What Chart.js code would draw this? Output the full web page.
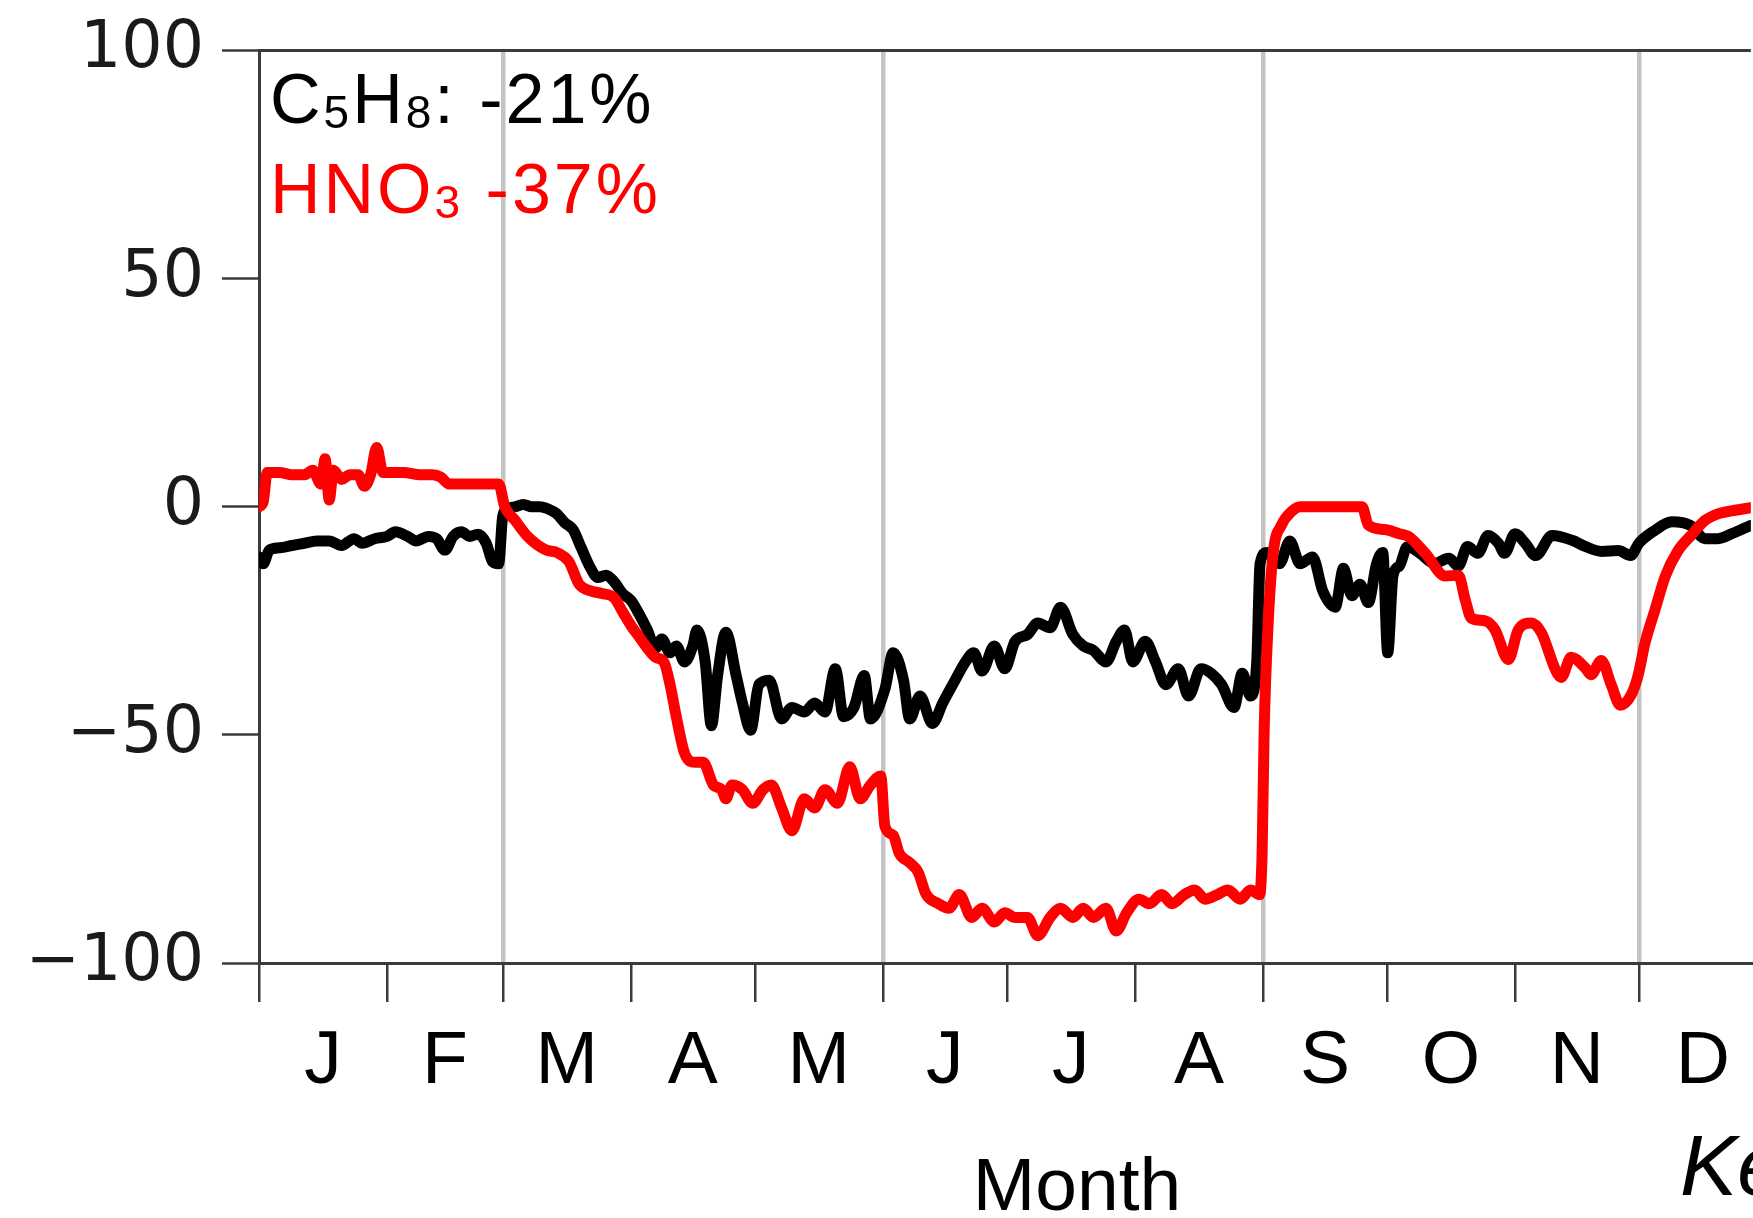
<!DOCTYPE html>
<html>
<head>
<meta charset="utf-8">
<title>C5H8 and HNO3 change by month</title>
<script src="https://cdn.jsdelivr.net/npm/chart.js@4.4.1/dist/chart.umd.min.js"></script>
<style>
  html, body { margin: 0; padding: 0; background: #fff; }
  canvas { display: block; }
</style>
</head>
<body>
<canvas id="changeChart" width="1753" height="1218"></canvas>
<script>
// month axis (day of year)
const monthLabels = ['J', 'F', 'M', 'A', 'M', 'J', 'J', 'A', 'S', 'O', 'N', 'D'];
const monthStarts = [0, 31, 59, 90, 120, 151, 181, 212, 243, 273, 304, 334];
const seasonStarts = [59, 151, 243, 334];
const yearLength = 365;
const yTicks = [-100, -50, 0, 50, 100];

// C5H8 change (%)
const c5h8Days = [
  0, 1, 2.5, 5, 8, 11, 14, 17, 20, 23,
  25, 28, 31, 33, 36, 38, 41, 43, 45, 47,
  49, 51, 53, 55, 56.5, 58, 59, 60, 62, 64,
  66, 68, 70, 72, 74, 76, 78, 80, 82, 84,
  86, 88, 90, 92, 94, 96, 97.5, 99.5, 101, 103,
  105, 106, 108, 109.5, 111, 113, 115.5, 117, 119, 121,
  123.5, 126.5, 129, 132, 134.5, 137, 139.5, 141.5, 144, 146.5,
  148, 151.5, 153.5, 156, 157.5, 160, 163, 165.5, 168.5, 171,
  173, 175, 178, 180.5, 183, 186, 188.5, 191.5, 194, 197,
  199.5, 202, 205, 207.5, 209.5, 211.5, 214.5, 217, 219.5, 222.5,
  225, 228, 230.5, 233, 236, 238, 240, 241.5, 242.3, 244,
  247, 249.5, 252, 255, 257.5, 260.5, 262.5, 264.5, 266.5, 268.5,
  270.5, 272, 273.2, 274.5, 276, 278, 281, 284.5, 288, 290.3,
  292.5, 295, 297.5, 300, 301.5, 304, 306.5, 309, 313, 318,
  321, 325, 329, 332, 334, 337.5, 342, 346.5, 350, 353,
  356.5, 361
];
const c5h8Values = [
  -11, -12.5, -9.5, -9, -8.5, -8, -7.5, -7.5, -8.5, -7,
  -8, -7, -6.5, -5.5, -6.5, -7.5, -6.5, -7, -9.5, -6.5,
  -5.5, -6.5, -6, -8, -12, -12.5, -2, -0.5, 0, 0.5,
  0, 0, -0.5, -1.5, -3.5, -5, -9, -13, -15.5, -15,
  -16.5, -19, -20.5, -23.5, -27, -31, -29, -32, -30.5, -34,
  -30.5, -27, -34, -48, -37, -27.5, -37, -43, -49, -39,
  -38, -46.5, -44, -45, -43, -45, -35.5, -46, -44, -37,
  -46.5, -40, -32, -38, -46.5, -41.5, -47.5, -43, -38, -34,
  -32, -36, -30.5, -35.5, -29.5, -28, -25.5, -26.5, -22, -28,
  -30.5, -31.5, -34, -29.5, -27, -34, -29.5, -34, -39, -35.5,
  -41.5, -35.5, -36.5, -39, -44, -36.5, -41.5, -34, -12.5, -10,
  -12.5, -7.5, -12.5, -11, -18.5, -22, -13.5, -19.5, -17, -21,
  -12.5, -10, -32, -15, -13, -8.7, -10.2, -12.4, -11.3, -13,
  -8.7, -10.2, -6.3, -8, -10.2, -5.9, -8, -10.7, -6.3, -7.4,
  -8.7, -9.8, -9.6, -10.7, -8, -5.4, -3.3, -4.1, -7, -7,
  -5.9, -4.1
];

// HNO3 change (%)
const hno3Days = [
  0, 1, 2, 5, 8, 11, 13, 15, 16, 17,
  18, 20, 22, 24, 25.5, 27, 28.5, 30, 32, 35,
  39, 42, 44, 46, 50, 54, 58, 59.5, 62, 65,
  69.5, 72, 75, 77.5, 80.5, 83, 86, 88, 90, 92,
  94, 96, 98, 99.5, 101, 103, 105.5, 107.5, 110, 112,
  113, 114.5, 117, 119.5, 122, 124, 126.5, 129, 132, 134.5,
  137, 140, 143, 145.5, 148, 150.5, 151.5, 153.5, 155, 157.5,
  159.5, 161.5, 164.5, 167, 169.5, 172.5, 175, 178, 180.5, 183,
  186, 188.5, 191.5, 194, 197, 199.5, 202, 205, 207.5, 210,
  213, 215.5, 218.5, 221, 224, 226.5, 229, 232, 234.5, 237.5,
  240, 242.2, 242.8, 243.3, 244.3, 245.5, 247.5, 250, 252, 267,
  268.5, 272.5, 276, 278.2, 282.3, 287.2, 290.3, 292, 293.4, 296.8,
  299.2, 302.4, 304.8, 307.9, 310.4, 313.8, 315.2, 317.6, 321, 322.4,
  324.9, 327.3, 329.5, 332.1, 333.8, 335.5, 337.9, 340.4, 343.5, 346.6,
  350, 353.3, 356.4, 361
];
const hno3Values = [
  0, 1, 7.5, 7.5, 7, 7, 8, 5, 10.5, 1.5,
  8, 6, 7, 7, 4.5, 7, 13, 7.5, 7.5, 7.5,
  7, 7, 6.5, 5, 5, 5, 5, 0, -3, -6.5,
  -9.5, -10, -12, -17, -18.5, -19, -20, -23, -26, -28.5,
  -31, -33, -34, -39, -46, -54, -56, -56, -61, -62,
  -64, -61, -62, -65, -62, -61, -66, -71, -64, -66,
  -62, -65, -57, -64, -61, -59, -70, -72, -76, -78,
  -80, -85, -87, -88, -85, -90, -88, -91, -89, -90,
  -90, -94, -90, -88, -90, -88, -90, -88, -93, -89,
  -86, -87, -85, -87, -85, -84, -86, -85, -84, -86,
  -84, -85, -76, -49, -25, -10, -4, -1, 0, 0,
  -4, -5, -5.9, -6.5, -10.2, -15.2, -15, -20.5, -24.4, -25,
  -27, -33.5, -27, -25.5, -27.6, -35.7, -37.4, -33, -35.3, -36.8,
  -33.7, -39, -43.5, -41.3, -37, -29.8, -22.6, -15.2, -9.6, -6.3,
  -3, -1.5, -0.9, -0.2
];

const axisColor = '#3a3a3a';
const visibleDays = 361.1;

const monthMids = monthStarts.map((start, i) => (start + (i < monthStarts.length - 1 ? monthStarts[i + 1] : yearLength)) / 2);
const xTickValues = monthStarts.concat(monthMids).sort((a, b) => a - b);

const toPoints = (days, values) => days.map((d, i) => ({ x: d, y: values[i] }));

function drawFormula(ctx, parts, x, y, color) {
  ctx.fillStyle = color;
  parts.forEach(([text, sub]) => {
    ctx.font = sub ? '46px "Liberation Sans"' : '70px "Liberation Sans"';
    ctx.fillText(text, x, sub ? y + 5 : y);
    x += ctx.measureText(text).width;
  });
}

const figureText = {
  id: 'figureText',
  afterDraw(chart) {
    const ctx = chart.ctx;
    ctx.save();
    ctx.textAlign = 'left';
    ctx.textBaseline = 'alphabetic';
    ctx.letterSpacing = '3px';
    drawFormula(ctx, [['C', 0], ['5', 1], ['H', 0], ['8', 1], [': -21%', 0]], 270, 123, '#000000');
    drawFormula(ctx, [['HNO', 0], ['3', 1], [' -37%', 0]], 270, 213, '#ff0000');
    ctx.letterSpacing = '0px';

    ctx.fillStyle = '#000000';
    ctx.textAlign = 'center';
    ctx.font = '75px "Liberation Sans"';
    ctx.fillText('Month', 1077, 1210);

    ctx.textAlign = 'left';
    ctx.font = 'italic 86px "Liberation Sans"';
    ctx.fillText('Ke', 1680, 1195);
    ctx.restore();
  }
};

new Chart(document.getElementById('changeChart'), {
  type: 'line',
  data: {
    datasets: [
      {
        label: 'HNO3',
        data: toPoints(hno3Days, hno3Values),
        borderColor: '#ff0000',
        borderWidth: 11,
        pointRadius: 0,
        cubicInterpolationMode: 'monotone',
        borderJoinStyle: 'round',
        borderCapStyle: 'round'
      },
      {
        label: 'C5H8',
        data: toPoints(c5h8Days, c5h8Values),
        borderColor: '#000000',
        borderWidth: 11,
        pointRadius: 0,
        cubicInterpolationMode: 'monotone',
        borderJoinStyle: 'round',
        borderCapStyle: 'round'
      }
    ]
  },
  options: {
    responsive: false,
    animation: false,
    layout: { padding: { top: 43.5, right: 0, bottom: 0, left: 0 } },
    plugins: {
      legend: { display: false },
      tooltip: { enabled: false }
    },
    scales: {
      x: {
        type: 'linear',
        min: 0,
        max: visibleDays,
        afterBuildTicks(scale) {
          scale.ticks = xTickValues.map((v) => ({ value: v }));
        },
        afterFit(scale) {
          scale.height = 255;
        },
        border: { display: true, color: axisColor, width: 3 },
        grid: {
          color: (ctx) => (ctx.tick && seasonStarts.includes(ctx.tick.value) ? '#c4c4c4' : 'rgba(0,0,0,0)'),
          lineWidth: 4.5,
          drawTicks: true,
          tickLength: 39,
          tickWidth: 2.5,
          tickColor: (ctx) => (ctx.tick && monthStarts.includes(ctx.tick.value) ? axisColor : 'rgba(0,0,0,0)')
        },
        ticks: {
          autoSkip: false,
          maxRotation: 0,
          minRotation: 0,
          padding: 23,
          color: '#000000',
          font: { family: 'Liberation Sans', size: 75, lineHeight: 1 },
          callback(value) {
            const i = monthMids.indexOf(value);
            return i >= 0 ? monthLabels[i] : '';
          }
        }
      },
      y: {
        min: -100,
        max: 100,
        afterBuildTicks(scale) {
          scale.ticks = yTicks.map((v) => ({ value: v }));
        },
        afterFit(scale) {
          scale.width = 259;
        },
        border: { display: true, color: axisColor, width: 3 },
        grid: {
          color: (ctx) => (ctx.tick && ctx.tick.value === 100 ? axisColor : 'rgba(0,0,0,0)'),
          lineWidth: 3,
          drawTicks: true,
          tickLength: 37,
          tickWidth: 2.5,
          tickColor: axisColor
        },
        ticks: {
          padding: 18,
          color: '#1a1a1a',
          font: { family: 'DejaVu Sans', size: 65, lineHeight: 1 },
          callback: (v) => (v < 0 ? '\u2212' + Math.abs(v) : String(v))
        }
      }
    }
  },
  plugins: [figureText]
});
</script>
</body>
</html>
